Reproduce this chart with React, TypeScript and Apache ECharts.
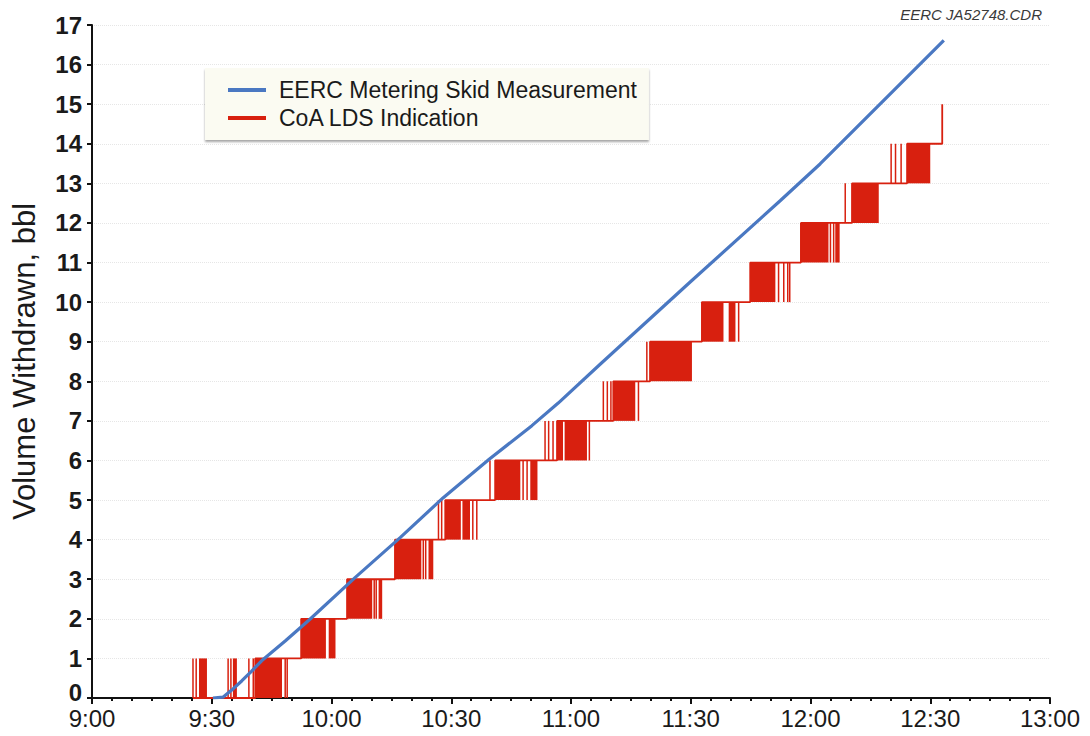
import React, { useEffect, useRef } from "react";
import * as echarts from "echarts";

// Time axis is in minutes after 9:00.
const timeLabels = ["9:00", "9:30", "10:00", "10:30", "11:00", "11:30", "12:00", "12:30", "13:00"];
const volumeTicks = [0, 1, 2, 3, 4, 5, 6, 7, 8, 9, 10, 11, 12, 13, 14, 15, 16, 17];

// EERC metering skid measurement (minutes, bbl)
const skidMinutes = [30.3, 32.8, 35.0, 37.5, 40.0, 42.5, 48.4, 54.6, 65.9, 77.2, 88.0, 99.5, 110.2, 116.8, 127.3, 150.0, 172.4, 182.4, 200.8, 213.4];
const skidVolume = [0, 0.02, 0.2, 0.43, 0.68, 0.94, 1.44, 1.99, 3.04, 4.05, 5.06, 6.03, 6.88, 7.45, 8.43, 10.52, 12.56, 13.49, 15.34, 16.61];

// CoA LDS indication: settled reading, stepping up one barrel at each time
const ldsStepMinutes = [25.3, 40.9, 52.4, 63.9, 75.9, 88.5, 101.0, 116.5, 130.6, 139.8, 152.8, 164.9, 177.6, 190.4, 204.2, 213.0];
const ldsStepLevels = [0, 1, 2, 3, 4, 5, 6, 7, 8, 9, 10, 11, 12, 13, 14, 15];

// Periods where the indication flickers rapidly between level and level + 1: [level, start, end]
const ldsFlicker: [number, number, number][] = [
  [0, 26.8, 28.8], [0, 35.3, 36.3], [0, 40.9, 47.6],
  [1, 52.4, 58.6], [1, 59.3, 61.0],
  [2, 63.9, 70.2], [2, 71.8, 72.7],
  [3, 75.9, 82.5], [3, 84.3, 85.5],
  [4, 88.5, 92.4], [4, 92.8, 94.7],
  [5, 101.0, 107.3], [5, 109.8, 111.6],
  [6, 116.5, 118.0], [6, 118.4, 124.0],
  [7, 130.6, 136.1],
  [8, 139.8, 150.3],
  [9, 152.8, 158.2], [9, 159.5, 161.2],
  [10, 164.9, 171.2],
  [11, 177.6, 184.5], [11, 186.2, 187.3],
  [12, 190.4, 197.1],
  [13, 204.2, 210.0],
];

// Single flicker spikes: [level, minute]
const ldsSpikes: [number, number][] = [
  [0, 25.3], [0, 26.1], [0, 34.1], [0, 34.8], [0, 39.3], [0, 40.4], [0, 48.4], [0, 48.9],
  [2, 70.7], [2, 71.2],
  [3, 83.0], [3, 83.6],
  [4, 86.8], [4, 87.6], [4, 95.4], [4, 96.4],
  [5, 99.7], [5, 108.0], [5, 109.0],
  [6, 113.5], [6, 114.4], [6, 115.5], [6, 124.6],
  [7, 128.1], [7, 129.1], [7, 130.0], [7, 136.9],
  [8, 139.0],
  [9, 162.0],
  [10, 172.0], [10, 173.3], [10, 174.3], [10, 174.8],
  [11, 185.0], [11, 185.8],
  [12, 188.7],
  [13, 200.2], [13, 201.3], [13, 202.7],
];

const FONT = "'Liberation Sans', Arial, sans-serif";
const INK = "#1a1a1a";
const BLUE = "#4a78c2";
const RED = "#d8200f";
const SKID = "EERC Metering Skid Measurement";
const LDS = "CoA LDS Indication";

const bandData = [
  ...ldsFlicker.map(([lvl, a, b]) => [a, b, lvl]),
  ...ldsSpikes.map(([lvl, t]) => [t, t, lvl]),
];

function renderBand(_params: any, api: any) {
  const a = api.value(0);
  const b = api.value(1);
  const lvl = api.value(2);
  const p0 = api.coord([a, lvl + 1]);
  const p1 = api.coord([b, lvl]);
  const thin = p1[0] - p0[0] < 1.5;
  return {
    type: "rect",
    shape: {
      x: thin ? p0[0] - 0.75 : p0[0],
      y: p0[1],
      width: thin ? 1.5 : p1[0] - p0[0],
      height: p1[1] - p0[1],
    },
    style: { fill: RED },
  };
}

export default function App() {
  const ref = useRef<HTMLDivElement>(null);

  useEffect(() => {
    const chart = echarts.init(ref.current!, null, { renderer: "svg" });
    chart.setOption({
      animation: false,
      backgroundColor: "#ffffff",
      grid: { left: 92, right: 40, top: 25, bottom: 38 },
      graphic: [
        {
          type: "text",
          right: 48,
          top: 7,
          style: { text: "EERC JA52748.CDR", font: `italic 15px ${FONT}`, fill: "#3a3a3a" },
        },
      ],
      legend: {
        orient: "vertical",
        left: 205,
        top: 68,
        padding: [10, 12, 10, 23],
        itemGap: 4,
        itemWidth: 38,
        itemHeight: 4,
        backgroundColor: "#fbfbf2",
        shadowColor: "rgba(0,0,0,0.35)",
        shadowBlur: 2,
        shadowOffsetY: 2,
        textStyle: { fontFamily: FONT, fontSize: 23, color: INK, lineHeight: 24, padding: [0, 0, 0, 8] },
        data: [
          { name: SKID, icon: "rect", itemStyle: { color: BLUE } },
          { name: LDS, icon: "rect", itemStyle: { color: RED } },
        ],
      },
      xAxis: {
        type: "value",
        min: 0,
        max: 240,
        interval: 30,
        axisLine: { show: true, lineStyle: { color: "#111", width: 2 } },
        axisTick: { show: true, length: 6, lineStyle: { color: "#111", width: 2 } },
        minorTick: { show: true, splitNumber: 6, length: 3, lineStyle: { color: "#111", width: 2 } },
        splitLine: { show: false },
        axisLabel: {
          margin: 8,
          fontFamily: FONT,
          fontSize: 24,
          color: INK,
          formatter: (v: number) => timeLabels[Math.round(v / 30)] ?? "",
        },
      },
      yAxis: {
        type: "value",
        min: 0,
        max: 17,
        interval: 1,
        name: "Volume Withdrawn, bbl",
        nameLocation: "middle",
        nameRotate: 90,
        nameGap: 52,
        nameTextStyle: { fontFamily: FONT, fontSize: 31, color: INK },
        axisLine: { show: true, lineStyle: { color: "#111", width: 2 } },
        axisTick: { show: true, length: 5, lineStyle: { color: "#111", width: 2 } },
        splitLine: { show: true, lineStyle: { color: "#e6e6e6", type: "dotted", width: 1 } },
        axisLabel: {
          margin: 10,
          fontFamily: FONT,
          fontSize: 24,
          fontWeight: "bold",
          color: INK,
          formatter: (v: number) =>
            v === 0 ? "{zero|0}" : volumeTicks.includes(v) ? String(v) : "",
          rich: {
            zero: { fontFamily: FONT, fontSize: 24, fontWeight: "bold", color: INK, padding: [0, 0, 12, 0] },
          },
        },
      },
      series: [
        {
          name: LDS,
          type: "custom",
          renderItem: renderBand,
          encode: { x: [0, 1], y: 2 },
          data: bandData,
          z: 2,
          silent: true,
        },
        {
          name: LDS,
          type: "line",
          step: "end",
          showSymbol: false,
          lineStyle: { color: RED, width: 1.8 },
          itemStyle: { color: RED },
          data: ldsStepMinutes.map((t, i) => [t, ldsStepLevels[i]]),
          z: 3,
        },
        {
          name: SKID,
          type: "line",
          showSymbol: false,
          lineStyle: { color: BLUE, width: 3.2 },
          itemStyle: { color: BLUE },
          data: skidMinutes.map((t, i) => [t, skidVolume[i]]),
          z: 5,
        },
      ],
    });
    return () => chart.dispose();
  }, []);

  return (
    <div
      ref={ref}
      style={{ position: "absolute", left: 0, top: 0, width: 1090, height: 736, background: "#fff" }}
    />
  );
}
